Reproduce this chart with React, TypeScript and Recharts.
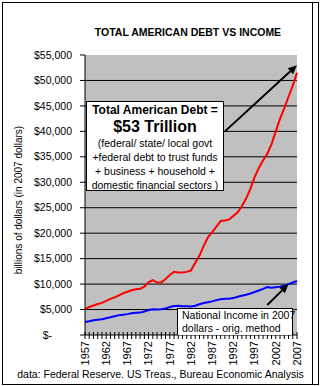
import React from 'react'
import { LineChart, Line, XAxis, YAxis, ReferenceLine, CartesianGrid } from 'recharts'

const FONT = 'Arial, "Liberation Sans", sans-serif'

const years = [
  1957, 1958, 1959, 1960, 1961, 1962, 1963, 1964, 1965, 1966,
  1967, 1968, 1969, 1970, 1971, 1972, 1973, 1974, 1975, 1976,
  1977, 1978, 1979, 1980, 1981, 1982, 1983, 1984, 1985, 1986,
  1987, 1988, 1989, 1990, 1991, 1992, 1993, 1994, 1995, 1996,
  1997, 1998, 1999, 2000, 2001, 2002, 2003, 2004, 2005, 2006, 2007
]

// total american debt, billions of 2007 dollars
const totalDebt = [
  5100, 5500, 5800, 6100, 6300, 6700, 7100, 7400, 7800, 8200,
  8500, 8800, 9000, 9100, 9500, 10400, 10800, 10300, 10300, 11000,
  11800, 12400, 12300, 12300, 12400, 12700, 14200, 15600, 17500, 19200,
  20200, 21300, 22400, 22500, 22700, 23400, 24100, 25300, 26800, 28700,
  31000, 32800, 34300, 35600, 37500, 40000, 42500, 44500, 46800, 49000, 51500
]

// national income, billions of 2007 dollars
const nationalIncome = [
  2550, 2700, 2900, 3000, 3100, 3300, 3500, 3700, 3900, 4000,
  4100, 4250, 4350, 4400, 4600, 4900, 5050, 5000, 5050, 5200,
  5500, 5700, 5750, 5650, 5650, 5600, 5750, 6050, 6300, 6450,
  6600, 6850, 7000, 7100, 7100, 7250, 7500, 7700, 7900, 8150,
  8450, 8750, 9050, 9400, 9300, 9400, 9500, 9700, 10000, 10300, 10600
]

const yTicks = [0, 5000, 10000, 15000, 20000, 25000, 30000, 35000, 40000, 45000, 50000, 55000]
const gridValues = [5000, 10000, 15000, 20000, 25000, 30000, 35000, 40000, 45000, 50000]
const labelYears = [1957, 1962, 1967, 1972, 1977, 1982, 1987, 1992, 1997, 2002, 2007]

// arrow annotations (year, value)
const debtArrow = [{ x: 1990, y: 40000 }, { x: 2007, y: 53000 }]
const incomeArrow = [{ x: 2000, y: 5900 }, { x: 2005, y: 10000 }]

const data = years.map((year, i) => ({
  year,
  debt: totalDebt[i],
  income: nationalIncome[i]
}))

const XTick = ({ x, y, payload }: any) => (
  <g>
    <line x1={x} x2={x} y1={y - 3} y2={y + 4} stroke="#000" />
    {labelYears.includes(payload.value) && (
      <text
        x={x}
        y={y + 6}
        transform={`rotate(-90 ${x} ${y + 6})`}
        textAnchor="end"
        dy="0.35em"
        fontSize={11}
        fontFamily={FONT}
        fill="#000"
      >
        {payload.value}
      </text>
    )}
  </g>
)

const YTick = ({ x, y, payload }: any) => {
  const v = payload.value
  const label = v === 0 ? '$-' : '$' + v.toLocaleString('en-US')
  return (
    <text
      x={v === 0 ? x - 20 : x}
      y={y}
      dy="0.35em"
      textAnchor="end"
      fontSize={10.5}
      fontFamily={FONT}
      fill="#000"
    >
      {label}
    </text>
  )
}

const YLabel = ({ viewBox }: any) => {
  const cx = viewBox.x + 13
  const cy = viewBox.y + viewBox.height / 2 + 5
  return (
    <text
      x={cx}
      y={cy}
      transform={`rotate(-90 ${cx} ${cy})`}
      textAnchor="middle"
      dy="0.35em"
      fontSize={10}
      fontFamily={FONT}
      fill="#000"
    >
      billions of dollars (in 2007 dollars)
    </text>
  )
}

const Arrow = (p: any) => {
  const { x1, y1, x2, y2 } = p
  const a = Math.atan2(y2 - y1, x2 - x1)
  const L = 9
  const W = 4
  const bx = x2 - L * Math.cos(a)
  const by = y2 - L * Math.sin(a)
  const pts = [
    `${x2},${y2}`,
    `${bx + W * Math.sin(a)},${by - W * Math.cos(a)}`,
    `${bx - W * Math.sin(a)},${by + W * Math.cos(a)}`
  ].join(' ')
  return (
    <g>
      <line x1={x1} y1={y1} x2={bx} y2={by} stroke="#000" strokeWidth={2} />
      <polygon points={pts} fill="#000" />
    </g>
  )
}

export default function App() {
  return (
    <div style={{ position: 'absolute', left: 0, top: 0, width: 321, height: 386, background: '#fff', fontFamily: FONT }}>
      <div style={{ position: 'absolute', left: 2, top: 2, width: 317, height: 383, border: '1px solid #000', boxSizing: 'border-box' }} />
      <div style={{ position: 'absolute', left: 312, top: 2, width: 1, height: 383, background: '#000' }} />

      <div style={{ position: 'absolute', left: 0, top: 26, width: 376, textAlign: 'center', fontSize: 10.5, fontWeight: 'bold', whiteSpace: 'nowrap' }}>
        TOTAL AMERICAN DEBT VS INCOME
      </div>

      <div style={{ position: 'absolute', left: 0, top: 0 }}>
        <LineChart width={321} height={386} data={data} margin={{ top: 55, right: 24, bottom: 16, left: 5 }}>
          <CartesianGrid horizontal={false} vertical={false} fill="#c0c0c0" />
          {gridValues.map((v) => (
            <ReferenceLine key={v} y={v} stroke="#000" strokeWidth={1} />
          ))}
          <XAxis
            dataKey="year"
            interval={0}
            tickSize={0}
            tickMargin={0}
            tickLine={false}
            axisLine={{ stroke: '#000' }}
            tick={<XTick />}
            height={35}
          />
          <XAxis xAxisId="top" dataKey="year" orientation="top" height={0} tick={false} tickLine={false} axisLine={{ stroke: '#808080' }} />
          <YAxis
            domain={[0, 55000]}
            ticks={yTicks}
            interval={0}
            tickSize={5}
            tickMargin={8}
            width={80}
            axisLine={{ stroke: '#000' }}
            tickLine={{ stroke: '#000' }}
            tick={<YTick />}
            label={<YLabel />}
          />
          <YAxis yAxisId="right" orientation="right" domain={[0, 1]} width={0} tick={false} tickLine={false} axisLine={{ stroke: '#808080' }} />
          <Line type="linear" dataKey="debt" stroke="#ff0000" strokeWidth={2} dot={false} isAnimationActive={false} />
          <Line type="linear" dataKey="income" stroke="#0000ff" strokeWidth={2} dot={false} isAnimationActive={false} />
          <ReferenceLine segment={debtArrow} ifOverflow="visible" shape={Arrow} />
          <ReferenceLine segment={incomeArrow} ifOverflow="visible" shape={Arrow} />
        </LineChart>
      </div>

      <div style={{ position: 'absolute', left: 86, top: 101, width: 138, height: 90, background: '#fff', border: '1px solid #000', boxSizing: 'border-box', textAlign: 'center', lineHeight: '14px', fontSize: 10.5, whiteSpace: 'nowrap' }}>
        <div style={{ fontWeight: 'bold', fontSize: 12, marginTop: 1 }}>Total American Debt =</div>
        <div style={{ fontWeight: 'bold', fontSize: 16, lineHeight: '19px' }}>$53 Trillion</div>
        <div>(federal/ state/ local govt</div>
        <div>+federal debt to trust funds</div>
        <div>+ business + household +</div>
        <div>domestic financial sectors )</div>
      </div>

      <div style={{ position: 'absolute', left: 177, top: 308, width: 116, height: 27, background: '#fff', border: '1px solid #000', borderBottom: 'none', boxSizing: 'border-box', fontSize: 10.5, lineHeight: '12.5px', paddingLeft: 4, whiteSpace: 'nowrap' }}>
        <div>National Income in 2007</div>
        <div>dollars - orig. method</div>
      </div>

      <div style={{ position: 'absolute', left: 0, top: 368, width: 321, textAlign: 'center', fontSize: 10.5, whiteSpace: 'nowrap' }}>
        data: Federal Reserve. US Treas., Bureau Economic Analysis
      </div>
    </div>
  )
}
